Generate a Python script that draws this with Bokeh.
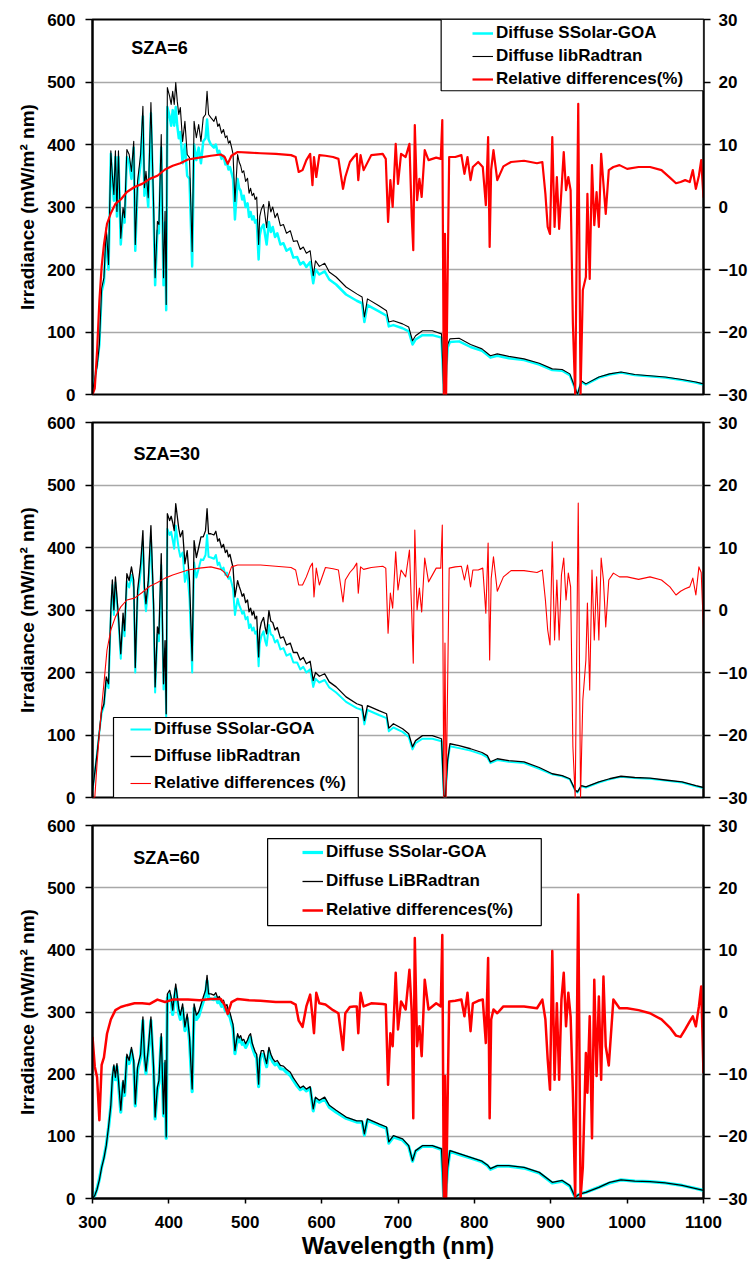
from bokeh.plotting import figure
from bokeh.models import (Range1d, LinearAxis, FixedTicker, Legend, LegendItem,
                          BoxAnnotation, Label)
from bokeh.layouts import column
from bokeh.embed import file_html
from bokeh.resources import INLINE

FONT = "Liberation Sans"

# ---------------- data ----------------
wl_irr = [300, 303, 306, 309, 312, 315, 318, 321, 324, 326,
          328, 330, 332, 334, 337, 340, 342, 345, 348, 351,
          354, 356, 359, 363, 366, 368, 370, 373, 376.5, 380,
          382, 385, 387, 390, 393, 395, 396.5, 398, 401, 403,
          405, 407, 409, 411, 413, 415, 418, 421, 424, 427,
          430.5, 433, 436, 439, 442, 445, 448, 450, 452, 455,
          459, 461.5, 464, 466, 469, 471.5, 474, 476, 478, 480,
          482, 484, 486.5, 490, 492, 494, 496, 498, 500.5, 503,
          505, 507, 509, 511, 513, 515, 517.5, 519, 521, 524,
          526, 528, 531, 533.5, 536, 539, 542, 546, 550, 554,
          559, 563, 568, 572, 576, 580, 585, 589, 592, 597,
          604, 610, 619,
          632, 646, 653, 656, 660, 675, 685, 688, 694, 706,
          714, 719, 723, 732, 745, 757, 760, 762, 765, 768,
          780, 795, 810, 817, 821, 830, 845, 865, 885, 902,
          915, 925, 932, 935, 940, 946, 963, 977, 992, 1010,
          1030, 1050, 1072, 1090, 1100]

libradtran_6 = [5, 25, 45, 80, 170, 187, 267, 208, 390, 350,
                320, 390, 293, 390, 250, 299, 283, 392, 384, 357,
                405, 240, 341, 384, 461, 331, 357, 315, 467, 304,
                187, 277, 272, 416, 187, 293, 144, 491, 477, 464,
                485, 464, 499, 469, 448, 459, 405, 437, 384, 379,
                229, 437, 411, 432, 405, 443, 448, 485, 448, 443,
                437, 445, 429, 433, 418, 424, 411, 414, 402, 406,
                396, 385, 309, 384, 372, 366, 355, 358, 341, 346,
                322, 330, 318, 322, 312, 316, 240, 285, 296, 304,
                285, 267, 309, 292, 300, 283, 290, 270, 272, 258,
                262, 245, 246, 232, 236, 226, 230, 190, 214, 205,
                210, 196, 188,
                172, 161, 156, 124, 153, 142, 134, 116, 118, 113,
                108, 86, 94, 102, 102, 97, 4, 15, 80, 89,
                90, 80, 73, 66, 62, 65, 61, 57, 50, 41,
                40, 33, 10, 0, 22, 17, 28, 33, 36, 32,
                30, 28, 24, 20, 17]

ssolar_6 = [5, 25, 48, 80, 165, 180, 255, 200, 385, 340,
            310, 380, 285, 380, 240, 290, 275, 380, 372, 345,
            395, 230, 330, 370, 445, 318, 345, 300, 450, 290,
            175, 262, 258, 395, 175, 275, 135, 460, 445, 430,
            455, 430, 460, 430, 410, 420, 370, 400, 350, 345,
            205, 400, 375, 395, 370, 405, 410, 440, 408, 400,
            395, 400, 386, 390, 377, 382, 368, 372, 360, 364,
            355, 345, 280, 345, 330, 326, 312, 318, 300, 306,
            284, 292, 280, 285, 275, 279, 216, 255, 266, 272,
            255, 240, 276, 260, 268, 252, 258, 240, 242, 230,
            234, 219, 220, 208, 212, 204, 212, 178, 200, 192,
            197, 184, 176,
            160, 150, 146, 116, 143, 133, 126, 109, 111, 106,
            101, 80, 88, 95, 95, 91, 4, 14, 75, 84,
            85, 76, 70, 63, 59, 62, 58, 55, 48, 39,
            38, 31, 9, 0, 20, 16, 27, 32, 35, 31,
            29, 27, 23, 19, 16]

libradtran_30 = [11, 40, 70, 105, 139, 150, 193, 182, 300, 348,
                 300, 353, 321, 290, 230, 295, 267, 358, 347, 369,
                 348, 208, 331, 374, 427, 337, 310, 347, 435, 310,
                 177, 273, 262, 390, 182, 251, 134, 454, 443, 450,
                 440, 427, 470, 450, 430, 417, 427, 374, 395, 347,
                 219, 411, 384, 400, 417, 417, 427, 462, 422, 422,
                 420, 426, 410, 414, 400, 405, 392, 396, 385, 389,
                 378, 368, 321, 347, 338, 331, 322, 326, 312, 316,
                 297, 303, 292, 298, 286, 290, 225, 268, 280, 288,
                 272, 262, 299, 282, 280, 268, 272, 255, 257, 244,
                 247, 232, 232, 220, 224, 214, 218, 187, 200, 194,
                 198, 185, 177,
                 161, 150, 147, 123, 147, 139, 134, 111, 118, 110,
                 102, 81, 91, 99, 99, 94, 3, 0, 60, 86,
                 83, 78, 72, 67, 57, 62, 59, 57, 48, 38,
                 35, 30, 12, 9, 19, 17, 25, 30, 34, 32,
                 31, 28, 25, 19, 16]

ssolar_30 = [11, 40, 72, 105, 135, 146, 186, 175, 292, 340,
             292, 344, 312, 282, 222, 286, 258, 346, 336, 356,
             336, 200, 318, 360, 410, 324, 298, 333, 418, 297,
             168, 261, 250, 372, 173, 238, 125, 430, 420, 425,
             412, 398, 435, 415, 397, 385, 392, 345, 362, 318,
             200, 376, 352, 366, 381, 380, 388, 420, 385, 384,
             382, 388, 372, 376, 364, 368, 356, 360, 350, 353,
             344, 334, 292, 318, 308, 302, 294, 298, 285, 289,
             271, 277, 267, 272, 262, 266, 210, 246, 258, 266,
             251, 243, 276, 261, 259, 248, 252, 237, 239, 227,
             230, 216, 216, 205, 209, 200, 205, 177, 190, 184,
             188, 176, 168,
             153, 143, 140, 117, 140, 132, 127, 106, 112, 105,
             97, 77, 87, 94, 94, 90, 3, 0, 57, 82,
             79, 75, 69, 64, 55, 60, 57, 55, 46, 37,
             34, 29, 11, 8, 18, 16, 24, 29, 33, 31,
             30, 27, 24, 18, 15]

libradtran_60 = [0, 5, 15, 30, 50, 65, 85, 115, 150, 195,
                 215, 195, 217, 190, 142, 190, 170, 232, 222, 243,
                 222, 152, 211, 232, 292, 230, 205, 240, 292, 211,
                 131, 179, 190, 265, 136, 222, 99, 329, 335, 324,
                 303, 325, 345, 325, 305, 295, 313, 276, 297, 260,
                 176, 313, 295, 300, 312, 324, 335, 359, 329, 329,
                 327, 331, 322, 325, 316, 319, 309, 312, 302, 299,
                 289, 280, 238, 265, 258, 262, 254, 256, 249, 255,
                 262, 265, 250, 243, 236, 232, 184, 226, 238, 238,
                 226, 217, 243, 232, 225, 220, 222, 214, 213, 208,
                 203, 194, 185, 178, 181, 176, 180, 144, 163, 158,
                 163, 150, 142,
                 131, 125, 125, 104, 128, 120, 115, 91, 101, 96,
                 85, 61, 77, 85, 85, 80, 0, 0, 50, 77,
                 72, 66, 60, 54, 48, 53, 53, 50, 42, 26,
                 29, 21, 2, 5, 8, 10, 18, 26, 30, 28,
                 27, 25, 21, 16, 13]

ssolar_60 = [0, 5, 16, 31, 51, 66, 86, 114, 148, 191,
             211, 191, 212, 186, 139, 186, 166, 227, 217, 238,
             217, 149, 206, 227, 286, 225, 201, 235, 286, 206,
             128, 175, 186, 259, 133, 217, 97, 322, 328, 317,
             296, 318, 337, 318, 298, 288, 306, 270, 290, 254,
             172, 306, 288, 293, 305, 317, 327, 350, 321, 321,
             320, 324, 315, 318, 309, 312, 302, 305, 295, 292,
             282, 274, 233, 259, 252, 256, 248, 250, 243, 249,
             256, 259, 244, 237, 230, 226, 180, 221, 232, 232,
             221, 212, 237, 227, 220, 215, 217, 209, 208, 203,
             198, 190, 181, 175, 178, 173, 177, 141, 160, 155,
             160, 147, 139,
             129, 123, 123, 102, 126, 118, 113, 89, 99, 94,
             84, 60, 76, 84, 84, 79, 0, 0, 49, 76,
             71, 65, 59, 53, 47, 52, 52, 49, 41, 25,
             28, 20, 2, 5, 8, 10, 18, 25, 30, 28,
             27, 25, 21, 16, 13]

wl_rel = [300, 303, 306, 309, 312, 315, 319, 324, 330, 337,
          345, 355, 365, 375, 385, 395, 405, 415, 425, 440,
          455, 468, 473, 477, 482, 490, 505, 520, 540, 560,
          566, 570, 575, 580, 585, 588, 590, 593, 597, 605,
          615, 622, 628, 631, 637, 642, 646, 648, 651, 655,
          665, 680, 684, 687, 690, 693, 697, 700, 704, 710,
          715, 718, 720, 722, 725, 728, 731, 735, 740, 750,
          756, 758, 760, 761.5, 763, 767, 775, 783, 787, 791,
          795, 798, 805, 811, 815, 818, 820, 822, 825, 830,
          838, 848, 865, 882, 889, 893, 896, 899, 902, 905,
          908, 911, 914, 917, 920, 923, 926, 929, 932, 936,
          939, 942, 946, 948, 951, 954, 957, 960, 963, 966,
          969, 972, 976, 982, 990, 1000, 1015, 1030, 1045, 1056,
          1064, 1070, 1076, 1082, 1086, 1090, 1094, 1097, 1100]

reldiff_6 = [-30, -29, -23, -15, -9.5, -6, -2.7, -1, 0.5, 1.2,
             2.4, 3.2, 3.7, 4.5, 5.0, 6.0, 6.6, 7.0, 7.6, 7.9,
             8.2, 8.4, 8.0, 6.9, 8.2, 8.8, 8.7, 8.6, 8.5, 8.3,
             8.0, 5.6, 5.9, 7.5, 8.5, 3.5, 8.0, 4.8, 8.3, 8.2,
             8.0, 7.7, 2.9, 4.8, 7.2, 8.0, 8.5, 4.3, 8.3, 5.9,
             8.3, 8.5, 7.7, -2.4, 4.3, 0.0, 10.1, 3.7, 8.5, 8.0,
             10.1, -1.6, -6.9, 13.1, 1.1, 4.5, 1.6, 9.1, 7.5, 7.9,
             7.7, 13.9, -30, -4.3, -30, 8.0, 8.0, 8.3, 5.3, 8.0,
             4.3, 6.4, 7.2, 6.4, 0.3, 11.2, -6.4, 6.0, 9.1, 4.3,
             6.5, 7.2, 7.4, 7.0, 7.2, 2.1, -3.2, -4.3, 11.2, -3.2,
             4.8, -3.5, 2.7, 8.8, 2.7, 4.8, 2.7, -18.7, -30, 16.5,
             -30, -13.3, -11.2, 2.1, -11.5, 6.7, -2.9, 2.4, -3.2, 8.5,
             3.7, -1.1, 5.9, 6.4, 6.7, 6.1, 6.4, 6.4, 5.9, 4.7,
             3.8, 4.0, 4.3, 4.0, 5.9, 2.9, 5.0, 7.5, 1.5]

reldiff_30 = [-30, -30, -24.5, -19.7, -15.5, -11.7, -6.4, -3.2, -1.1, 0.5,
              1.6, 1.9, 2.8, 3.8, 4.4, 5.1, 5.6, 6.0, 6.4, 6.7,
              6.9, 6.5, 6.0, 5.2, 6.9, 7.2, 7.2, 7.2, 7.0, 6.8,
              6.4, 4.0, 4.0, 5.3, 6.9, 7.5, 2.1, 6.7, 4.0, 6.8,
              6.6, 6.4, 1.3, 4.8, 6.0, 6.7, 7.5, 2.7, 6.9, 6.5,
              6.8, 7.0, 6.7, -3.7, 2.7, 0.3, 9.3, 3.2, 6.4, 5.3,
              9.6, -0.5, -8.5, 12.8, 0.0, 3.5, -0.3, 8.3, 4.5, 6.7,
              6.7, 13.6, -30, -5.3, -30, 6.7, 6.9, 7.0, 4.8, 7.2,
              3.7, 6.4, 6.4, 6.7, -0.5, 10.7, -8.0, 5.0, 8.5, 3.0,
              5.3, 6.3, 6.3, 6.0, 6.4, 1.6, -3.2, -5.6, 10.9, -4.8,
              4.8, -4.8, 5.6, 8.3, 1.6, 5.9, 3.7, -21.9, -30, 17.1,
              -30, -14.4, -8.0, 1.1, -12.8, 6.4, -4.8, 5.3, -4.8, 8.3,
              4.8, -2.7, 4.8, 5.9, 5.3, 5.3, 4.9, 5.3, 4.8, 3.7,
              2.4, 3.0, 3.4, 3.7, 5.1, 2.4, 6.9, 6.0, -3.2]

reldiff_60 = [-4.0, -8.8, -10.5, -17.4, -8.5, -7.3, -3.5, -1.2, 0.3, 0.8,
              1.1, 1.4, 1.4, 1.3, 2.0, 1.6, 2.0, 2.0, 2.0, 1.9,
              2.1, 2.1, 1.1, -0.3, 1.6, 2.1, 1.9, 1.8, 1.6, 1.6,
              1.2, -1.4, -2.4, 0.9, 2.8, -0.7, -3.4, 3.1, 1.4, 1.2,
              0.3, -0.2, -6.1, -0.2, 0.8, 0.9, 0.9, -3.4, 3.1, 0.9,
              1.4, 1.3, 1.2, -11.7, -3.4, -5.5, 6.3, -2.8, 1.7, 0.4,
              6.8, 0.0, -17.1, 11.9, -5.5, -2.3, -7.1, 5.2, 0.4, 1.4,
              0.9, 12.4, -30, -10.3, -30, 1.7, 1.8, 2.0, -0.7, 3.1,
              -3.1, 1.4, 1.8, 2.0, -5.0, 8.7, -17.1, -1.2, 0.4, -0.2,
              0.9, 0.9, 0.9, 0.6, 2.0, -1.2, -7.6, -12.5, 9.8, -10.9,
              1.4, -10.9, 2.0, 6.3, -2.3, 3.1, -0.7, -13.0, -30, 18.9,
              -30, -25, -6.6, -13.0, -0.7, -20.3, 5.2, -10.3, 2.5, -10.9,
              5.7, -5.5, -8.6, 2.0, 0.6, 0.6, 0.3, -0.2, -1.2, -2.5,
              -3.8, -4.0, -2.8, -1.5, -0.7, -2.3, 0.9, 4.1, -9.8]

x_ticks = [300, 400, 500, 600, 700, 800, 900, 1000, 1100]
y_ticks = [0, 100, 200, 300, 400, 500, 600]
rel_ticks = [-30, -20, -10, 0, 10, 20, 30]

for a in (libradtran_6, ssolar_6, libradtran_30, ssolar_30, libradtran_60, ssolar_60):
    assert len(a) == len(wl_irr), (len(a), len(wl_irr))
for a in (reldiff_6, reldiff_30, reldiff_60):
    assert len(a) == len(wl_rel), len(a)


def style_axis(ax, tick_out, standoff):
    ax.major_label_text_font = FONT
    ax.major_label_text_font_style = "bold"
    ax.major_label_text_font_size = "17px"
    ax.major_label_text_color = "black"
    ax.axis_line_color = "black"
    ax.axis_line_width = 2
    ax.major_tick_line_color = "black"
    ax.major_tick_line_width = 1.5
    ax.major_tick_out = tick_out
    ax.major_tick_in = 0
    ax.minor_tick_line_color = None
    ax.major_label_standoff = standoff


def make_panel(height, bl, br, bt, bb, show_x, ss, lib, rel, widths,
               sza_text, sza_xy, labels, leg_loc, leg_spacing, box):
    p = figure(width=750, height=height,
               x_range=Range1d(300, 1100), y_range=Range1d(0, 600),
               output_backend="svg", toolbar_location=None,
               x_axis_location="below" if show_x else None,
               min_border_left=bl, min_border_right=br,
               min_border_top=bt, min_border_bottom=bb,
               background_fill_color="white", border_fill_color="white")
    p.outline_line_color = "black"
    p.outline_line_width = 2
    p.extra_y_ranges = {"rel": Range1d(-30, 30)}

    yax = p.yaxis[0]
    yax.ticker = FixedTicker(ticks=y_ticks)
    style_axis(yax, 7, 10)
    yax.axis_label = "Irradiance (mW/m² nm)"
    yax.axis_label_text_font = FONT
    yax.axis_label_text_font_style = "bold"
    yax.axis_label_text_font_size = "19px"
    yax.axis_label_text_color = "black"
    yax.axis_label_standoff = 6

    rax = LinearAxis(y_range_name="rel", ticker=FixedTicker(ticks=rel_ticks))
    style_axis(rax, 7, 8)
    p.add_layout(rax, "right")

    p.ygrid.grid_line_color = "#a8a8a8"
    p.ygrid.grid_line_width = 1.5
    p.xgrid.visible = False

    if show_x:
        xax = p.xaxis[0]
        xax.ticker = FixedTicker(ticks=x_ticks)
        style_axis(xax, 5, 12)
        xax.axis_label = "Wavelength (nm)"
        xax.axis_label_text_font = FONT
        xax.axis_label_text_font_style = "bold"
        xax.axis_label_text_font_size = "24px"
        xax.axis_label_text_color = "black"
        xax.axis_label_standoff = 1

    rc = p.line(wl_irr, ss, line_color="#00FFFF", line_width=widths[0], line_join="round")
    rb = p.line(wl_irr, lib, line_color="black", line_width=widths[1], line_join="round")
    rr = p.line(wl_rel, rel, line_color="#FF0000", line_width=widths[2],
                line_join="round", y_range_name="rel")

    p.add_layout(Label(x=sza_xy[0], y=sza_xy[1], text=sza_text, text_font=FONT,
                       text_font_style="bold", text_font_size="18px",
                       text_color="black", text_baseline="middle", text_align="left"))

    p.add_layout(BoxAnnotation(left=box[0], right=box[1], bottom=box[2], top=box[3],
                               fill_color="white", fill_alpha=1.0,
                               line_color="black", line_width=1.2, line_alpha=1.0))

    legend = Legend(items=[LegendItem(label=labels[0], renderers=[rc]),
                           LegendItem(label=labels[1], renderers=[rb]),
                           LegendItem(label=labels[2], renderers=[rr])],
                    location=leg_loc, orientation="vertical",
                    glyph_width=21, glyph_height=20, label_height=20,
                    label_standoff=3, spacing=leg_spacing, padding=4, margin=0,
                    border_line_alpha=0, background_fill_alpha=0,
                    label_text_font=FONT, label_text_font_style="bold",
                    label_text_font_size="17px", label_text_color="black")
    p.add_layout(legend)
    return p


p1 = make_panel(408, 87, 46, 19, 14, False, ssolar_6, libradtran_6, reldiff_6,
                (2.5, 1.1, 2.2), "SZA=6", (350.6, 555),
                ("Diffuse SSolar-GOA", "Diffuse libRadtran", "Relative differences(%)"),
                (376, 301), 3, (756.5, 1100, 486, 600))
p2 = make_panel(403, 92, 46, 14, 14, False, ssolar_30, libradtran_30, reldiff_30,
                (2.0, 1.3, 1.1), "SZA=30", (353.6, 549),
                ("Diffuse SSolar-GOA", "Diffuse libRadtran", "Relative differences (%)"),
                (34, 0), 7, (327.5, 648, 0, 128))
p3 = make_panel(453, 92, 46, 14, 66, True, ssolar_60, libradtran_60, reldiff_60,
                (3.2, 1.3, 2.5), "SZA=60", (353.4, 547),
                ("Diffuse SSolar-GOA", "Diffuse LiBRadtran", "Relative differences(%)"),
                (206, 274), 9, (529.3, 887.6, 439, 579))

layout = column(p1, p2, p3)
open("out.html", "w").write(file_html(layout, INLINE))
